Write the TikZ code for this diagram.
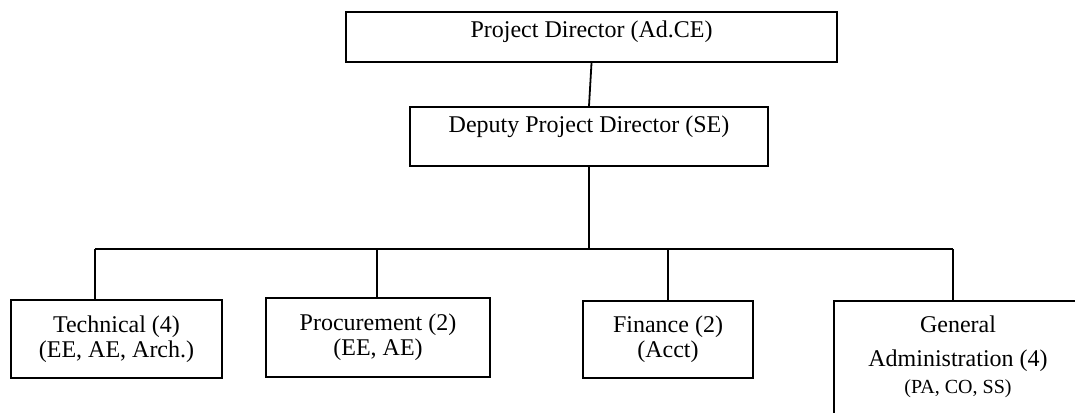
\documentclass[tikz,border=0pt]{standalone}
\usepackage{fontspec}
\setmainfont{Liberation Serif}
\usepackage{tikz}

\begin{document}
\begin{tikzpicture}
        [x=0.5pt, y=-0.5pt,
        unit/.style={rectangle, draw=black, line width=1pt, inner sep=0pt, align=center,
          font=\fontsize{12}{12.5}\selectfont},
        link/.style={line width=0.9pt}]
        \clip (0,0) rectangle (1075,412);
        % top of the chart
        \node (pd) at (591.5,37) [unit, minimum width=245.5pt, minimum height=25pt,
           text height=5pt, text depth=5pt] {Project Director (Ad.CE)};
        \node (dpd) at (589,136.5) [unit, minimum width=179pt, minimum height=29.5pt,
           text height=4pt, text depth=8.5pt] {Deputy Project Director (SE)};
        % the four sections
        \node (tech) at (116.5,339) [unit, minimum width=105.5pt, minimum height=39pt]
           {Technical (4)\\(EE, AE, Arch.)};
        \node (proc) at (378,337.5) [unit, minimum width=112pt, minimum height=39.5pt]
           {Procurement (2)\\(EE, AE)};
        \node (fin) at (668,339.5) [unit, minimum width=85pt, minimum height=38.5pt]
           {Finance (2)\\(Acct)};
        \node (ga) at (833,300) [unit, anchor=north west, minimum width=124pt, minimum height=80pt,
           text height=20pt, text depth=8pt]
           {General\\[4.5pt]Administration (4)\\[1pt]{\fontsize{10}{12}\selectfont (PA, CO, SS)}};
        % connectors
        \coordinate (bus) at (589,249);
        \coordinate (b1) at (95,249);
        \coordinate (b2) at (377,249);
        \coordinate (b3) at (668,249);
        \coordinate (b4) at (953,249);
        \draw[link] (pd.south) -- (dpd.north);
        \draw[link] (dpd.south) -- (bus);
        \draw[link] (b1) -- (b4);
        \draw[link] (b1) -- (b1 |- tech.north);
        \draw[link] (b2) -- (b2 |- proc.north);
        \draw[link] (b3) -- (b3 |- fin.north);
        \draw[link] (b4) -- (b4 |- ga.north);
\end{tikzpicture}
\end{document}
